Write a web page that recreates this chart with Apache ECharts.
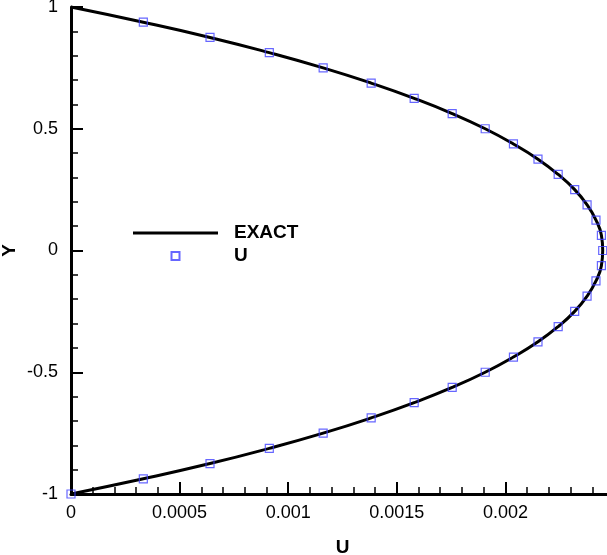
<html>
	<head>
		<meta charset="UTF-8"/>
		<title>U profile</title>
		<script type="text/javascript" src="https://cdn.jsdelivr.net/npm/echarts@6/dist/echarts.min.js"></script>
		<style type="text/css">
			body {
				margin: 0;
				background: #fff;
			}
			#canvasDiv {
				width: 607px;
				height: 555px;
			}
		</style>
		<script type="text/javascript">
			// exact profile (line)
			var exactY = [1, 0.9375, 0.875, 0.8125, 0.75, 0.6875, 0.625, 0.5625, 0.5, 0.4375, 0.375, 0.3125, 0.25, 0.1875, 0.125, 0.0625, 0,
				-0.0625, -0.125, -0.1875, -0.25, -0.3125, -0.375, -0.4375, -0.5, -0.5625, -0.625, -0.6875, -0.75, -0.8125, -0.875, -0.9375, -1];
			var exactU = [0, 0.000333, 0.000640, 0.000913, 0.001161, 0.001382, 0.001580, 0.001755, 0.001907, 0.002037, 0.002150, 0.002243, 0.002319, 0.002376, 0.002417, 0.002442, 0.002448,
				0.002442, 0.002417, 0.002376, 0.002319, 0.002243, 0.002150, 0.002037, 0.001907, 0.001755, 0.001580, 0.001382, 0.001161, 0.000913, 0.000640, 0.000333, 0];
			// computed U (squares)
			var sampleY = [0.9375, 0.875, 0.8125, 0.75, 0.6875, 0.625, 0.5625, 0.5, 0.4375, 0.375, 0.3125, 0.25, 0.1875, 0.125, 0.0625, 0,
				-0.0625, -0.125, -0.1875, -0.25, -0.3125, -0.375, -0.4375, -0.5, -0.5625, -0.625, -0.6875, -0.75, -0.8125, -0.875, -0.9375, -1];
			var sampleU = [0.000333, 0.000640, 0.000913, 0.001161, 0.001382, 0.001580, 0.001755, 0.001907, 0.002037, 0.002150, 0.002243, 0.002319, 0.002376, 0.002417, 0.002442, 0.002448,
				0.002442, 0.002417, 0.002376, 0.002319, 0.002243, 0.002150, 0.002037, 0.001907, 0.001755, 0.001580, 0.001382, 0.001161, 0.000913, 0.000640, 0.000333, 0];

			var FONT = "Liberation Sans";

			window.onload = function(){
				var line = [], pts = [];
				for (var i = 0; i < exactY.length; i++) line.push([exactU[i], exactY[i]]);
				for (var j = 0; j < sampleY.length; j++) pts.push([sampleU[j], sampleY[j]]);

				var chart = echarts.init(document.getElementById("canvasDiv"), null, {renderer: "canvas"});
				var option = {
					animation: false,
					backgroundColor: "#fff",
					grid: {
						left: 71,
						top: 7,
						right: -7,
						bottom: 61,
						containLabel: false,
						outerBoundsMode: "none"
					},
					legend: {
						orient: "vertical",
						left: 133,
						top: 223,
						padding: 0,
						itemWidth: 85,
						itemHeight: 8,
						itemGap: 3,
						textStyle: {
							fontFamily: FONT,
							fontSize: 19,
							fontWeight: "bold",
							color: "#000",
							lineHeight: 20,
							padding: [0, 0, 0, 11]
						},
						data: [
							{name: "EXACT", icon: "path://M0,0L85,0L85,3L0,3Z"},
							{name: "U", icon: "path://M0,0L10,0L10,10L0,10Z"}
						]
					},
					xAxis: {
						type: "value",
						min: 0,
						max: 0.0025,
						interval: 0.0005,
						name: "U",
						nameLocation: "middle",
						nameGap: 44,
						nameMoveOverlap: false,
						nameTextStyle: {fontFamily: FONT, fontSize: 19, fontWeight: "bold", color: "#000"},
						axisLine: {onZero: false, lineStyle: {color: "#000", width: 3}},
						axisTick: {inside: true, length: 12, lineStyle: {color: "#000", width: 2}},
						minorTick: {show: true, splitNumber: 5, length: 7, lineStyle: {color: "#000", width: 1.5}},
						splitLine: {show: false},
						axisLabel: {
							fontFamily: FONT, fontSize: 18, color: "#000", margin: 10,
							showMaxLabel: false,
							formatter: function(v){ return String(+v.toFixed(6)); }
						}
					},
					yAxis: {
						type: "value",
						min: -1,
						max: 1,
						interval: 0.5,
						name: "Y",
						nameLocation: "middle",
						nameGap: 52,
						nameMoveOverlap: false,
						nameTextStyle: {fontFamily: FONT, fontSize: 19, fontWeight: "bold", color: "#000"},
						axisLine: {onZero: false, lineStyle: {color: "#000", width: 3}},
						axisTick: {inside: true, length: 12, lineStyle: {color: "#000", width: 2}},
						minorTick: {show: true, splitNumber: 5, length: 7, lineStyle: {color: "#000", width: 1.5}},
						splitLine: {show: false},
						axisLabel: {fontFamily: FONT, fontSize: 18, color: "#000", margin: 13}
					},
					series: [{
						type: "line",
						name: "EXACT",
						data: line,
						smooth: true,
						symbol: "none",
						lineStyle: {color: "#000", width: 3},
						itemStyle: {color: "#000"},
						z: 2
					},{
						type: "scatter",
						name: "U",
						data: pts,
						symbol: "rect",
						symbolSize: 8,
						itemStyle: {color: "rgba(255,255,255,0)", borderColor: "#4040ff", borderWidth: 1.2},
						z: 3
					}]
				};
				chart.setOption(option);
			};
		</script>
	</head>
	<body>
		<div id="canvasDiv"></div>
	</body>
</html>
